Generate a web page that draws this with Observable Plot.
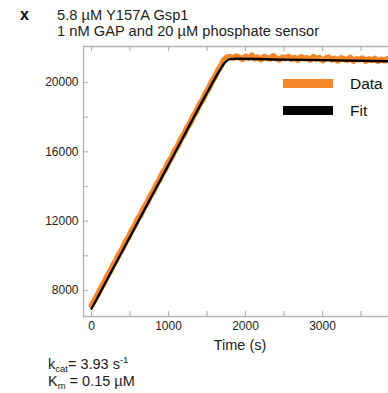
<!DOCTYPE html>
<html>
<head>
<meta charset="utf-8">
<script src="https://cdn.jsdelivr.net/npm/d3@7"></script>
<script src="https://cdn.jsdelivr.net/npm/@observablehq/plot@0.6"></script>
<style>
  html, body { margin: 0; padding: 0; background: #fff; }
  #wrap { position: relative; width: 388px; height: 393px; overflow: hidden; font-family: "Liberation Sans", Arial, sans-serif; color: #222; }
  #wrap svg { position: absolute; left: 0; top: 0; }
  .t { position: absolute; white-space: nowrap; line-height: 1; }
  .t span { line-height: 0; }
  .sw { position: absolute; }
</style>
</head>
<body>
<div id="wrap"></div>
<script>
// ---- data ----
const panelLetter = "x";
const titleLines = ["5.8 µM Y157A Gsp1", "1 nM GAP and 20 µM phosphate sensor"];
const xLabel = "Time (s)";
const seriesNames = ["Data", "Fit"];
const seriesColors = ["#f5862a", "#000000"];

const dataTime = [
  0, 40, 80, 120, 160, 200, 240, 280, 320, 360, 400, 440, 480, 520, 560, 600, 640, 680, 720, 760,
  800, 840, 880, 920, 960, 1000, 1040, 1080, 1120, 1160, 1200, 1240, 1280, 1320, 1360, 1400, 1440, 1480, 1520, 1560,
  1600, 1640, 1680, 1720, 1760, 1800, 1840, 1880, 1920, 1960, 2000, 2040, 2080, 2120, 2160, 2200, 2240, 2280, 2320, 2360,
  2400, 2440, 2480, 2520, 2560, 2600, 2640, 2680, 2720, 2760, 2800, 2840, 2880, 2920, 2960, 3000, 3040, 3080, 3120, 3160,
  3200, 3240, 3280, 3320, 3360, 3400, 3440, 3480, 3520, 3560, 3600, 3640, 3680, 3720, 3760, 3800, 3840, 3880
];
const dataSignal = [
  7150, 7440, 7760, 8120, 8420, 8790, 9080, 9460, 9740, 10130, 10400, 10790, 11060, 11450, 11720, 12110, 12380, 12770, 13040, 13430,
  13700, 14090, 14360, 14750, 15020, 15410, 15680, 16070, 16340, 16730, 17000, 17390, 17660, 18050, 18320, 18710, 18980, 19370, 19640, 20030,
  20300, 20680, 20950, 21300, 21460, 21480, 21390, 21520, 21440, 21350, 21500, 21410, 21560, 21380, 21450, 21330, 21490, 21420, 21370, 21530,
  21400, 21310, 21460, 21390, 21500, 21350, 21430, 21290, 21470, 21380, 21410, 21300, 21480, 21360, 21420, 21270, 21390, 21450, 21320, 21380,
  21260, 21410, 21340, 21300, 21430, 21250, 21360, 21320, 21400, 21240, 21350, 21290, 21380, 21230, 21330, 21270, 21360, 21220
];

const fitTime = [0, 500, 1000, 1500, 1650, 1720, 1770, 1820, 1900, 2500, 3000, 3880];
const fitSignal = [6950, 11100, 15250, 19400, 20600, 21080, 21290, 21360, 21370, 21320, 21290, 21225];

const xTickLabels = [0, 1000, 2000, 3000];
const xTickMarks = [0, 500, 1000, 1500, 2000, 2500, 3000, 3500];
const yTickLabels = [8000, 12000, 16000, 20000];
const yTickMarks = [8000, 10000, 12000, 14000, 16000, 18000, 20000];

const statLines = [
  {sym: "k", sub: "cat", rest: "= 3.93 s", sup: "-1"},
  {sym: "K", sub: "m", rest: " = 0.15 µM", sup: ""}
];

// ---- build tables ----
const dataRows = dataTime.map((t, i) => ({t, v: dataSignal[i]}));
const fitRows = fitTime.map((t, i) => ({t, v: fitSignal[i]}));

const W = 388, H = 393;
const mL = 83, mR = 0, mT = 46, mB = 77;
const innerW = W - mL - mR, innerH = H - mT - mB;
const tickLen = 5;
const frameColor = "#b3b3b3";

const chart = Plot.plot({
  width: W,
  height: H,
  marginLeft: mL,
  marginRight: mR,
  marginTop: mT,
  marginBottom: mB,
  style: {fontFamily: "'Liberation Sans', Arial, sans-serif", fontSize: "12px", color: "#222", background: "transparent"},
  x: {domain: [-104, 3857], label: null},
  y: {domain: [6500, 22077], label: null},
  marks: [
    Plot.frame({anchor: "top", stroke: frameColor, strokeWidth: 1.3}),
    Plot.frame({anchor: "left", stroke: frameColor, strokeWidth: 1.3}),
    Plot.frame({anchor: "bottom", stroke: frameColor, strokeWidth: 1.3}),
    Plot.tickX(xTickMarks, {x: d => d, insetBottom: innerH - tickLen, stroke: frameColor, strokeWidth: 1.2}),
    Plot.tickX(xTickMarks, {x: d => d, insetTop: innerH - tickLen, stroke: frameColor, strokeWidth: 1.2}),
    Plot.tickY(yTickMarks, {y: d => d, insetRight: innerW - tickLen, stroke: frameColor, strokeWidth: 1.2}),
    Plot.axisX(xTickLabels, {tickSize: 0, tickPadding: 5, fontSize: 12, fill: "#222", label: null, tickFormat: d => String(d)}),
    Plot.axisY(yTickLabels, {tickSize: 0, tickPadding: 5, fontSize: 12, fill: "#222", label: null, tickFormat: d => String(d)}),
    Plot.line(dataRows, {x: "t", y: "v", stroke: seriesColors[0], strokeWidth: 6, strokeLinejoin: "round", strokeLinecap: "round", clip: true}),
    Plot.line(fitRows, {x: "t", y: "v", stroke: seriesColors[1], strokeWidth: 2.3, curve: "monotone-x", clip: true}),
    Plot.text([xLabel], {frameAnchor: "bottom", dx: 4, dy: 23, fontSize: 14.5, fill: "#222", lineAnchor: "top", text: d => d})
  ]
});

const wrap = document.getElementById("wrap");
wrap.appendChild(chart);

function addText(txt, left, top, size, extra = {}) {
  const d = document.createElement("div");
  d.className = "t";
  d.textContent = txt;
  d.style.left = left + "px";
  d.style.top = top + "px";
  d.style.fontSize = size + "px";
  Object.assign(d.style, extra);
  wrap.appendChild(d);
  return d;
}

// panel letter + title
addText(panelLetter, 20, 7, 16, {fontWeight: "bold", color: "#111"});
addText(titleLines[0], 57, 8, 14.7);
addText(titleLines[1], 57, 24, 14.7);

// legend
seriesNames.forEach((name, i) => {
  const sw = document.createElement("div");
  sw.className = "sw";
  sw.style.left = "283px";
  sw.style.width = "50px";
  sw.style.top = (i === 0 ? 79 : 106) + "px";
  sw.style.height = "9px";
  sw.style.background = seriesColors[i];
  wrap.appendChild(sw);
  addText(name, 350, i === 0 ? 76 : 103, 15.5, {color: "#111"});
});

// stats below
statLines.forEach((s, i) => {
  const d = document.createElement("div");
  d.className = "t";
  d.style.left = "48px";
  d.style.top = (i === 0 ? 357 : 374) + "px";
  d.style.fontSize = "14.5px";
  d.innerHTML = s.sym + '<span style="font-size:9.5px;position:relative;top:3px">' + s.sub + '</span>' + s.rest +
    (s.sup ? '<span style="font-size:9.5px;position:relative;top:-6px">' + s.sup + '</span>' : '');
  wrap.appendChild(d);
});
</script>
</body>
</html>
